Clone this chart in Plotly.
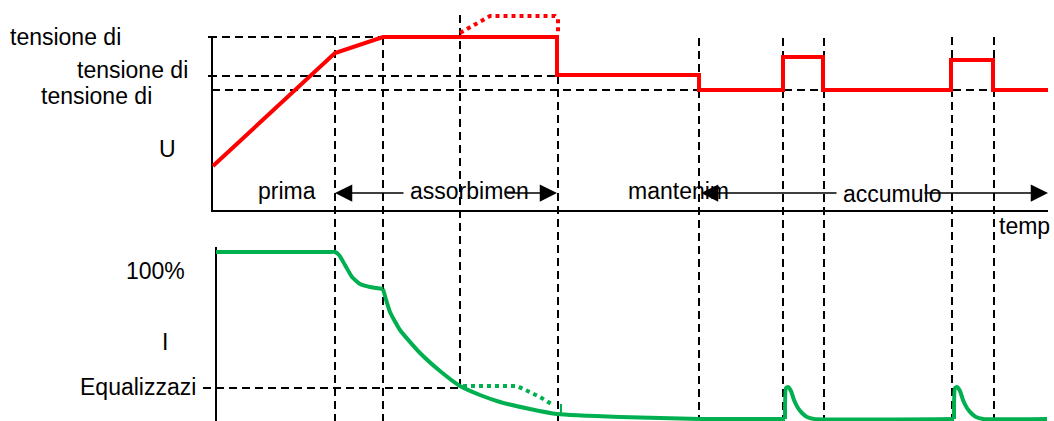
"""Charging profile sketch: voltage (U) and current (I) over time."""

import plotly.graph_objects as go

# voltage curve U(t)
u_t = [213, 335, 383, 557, 557, 699, 699, 783, 783, 823, 823, 951, 951, 993, 993, 1048]
u_v = [166, 53, 37, 37, 75, 75, 90, 90, 57, 57, 90, 90, 60, 60, 90, 90]
# equalization voltage (dotted)
u_eq_t = [460, 490, 555, 558, 558]
u_eq_v = [33, 16, 16, 19, 33]

# current curve I(t)
i_bulk_t = [216, 300, 328, 335, 339, 345, 352, 360, 370, 383]
i_bulk_v = [252, 252, 252, 252, 255, 265, 277, 284, 287, 289]
i_abs_t = [383, 390, 400, 420, 440, 460, 480, 500, 530, 557, 620, 700, 785]
i_abs_v = [289, 312, 330, 353, 371, 386, 395, 402, 409, 414, 417, 419, 419]
i_pulse1_t = [785, 786, 788, 791, 794, 798, 802, 807, 814, 954]
i_pulse1_v = [419, 388, 387, 391, 400, 408, 413, 417, 419, 419]
i_pulse2_t = [954, 955, 957, 960, 963, 967, 971, 976, 983, 1047]
i_pulse2_v = [419, 388, 387, 391, 400, 408, 413, 417, 419, 419]
# equalization current (dotted)
i_eq_t = [463, 517, 540, 553]
i_eq_v = [386, 386, 397, 405]
i_eq_tick_t = [561, 561]
i_eq_tick_v = [404, 414]

# phase boundaries (vertical dashed guides)
guide_t = [335, 383, 460, 558, 699, 783, 824, 952, 994]
guide_top = [37, 37, 15, 37, 38, 38, 38, 37, 37]
guide_bottom = [421, 421, 388, 421, 421, 421, 421, 421, 421]

# reference levels (horizontal dashed guides)
level_v = [37, 76, 90, 388]
level_t0 = [209, 209, 212, 203]
level_t1 = [557, 560, 1002, 460]

# labels
labels = ["tensione di", "tensione di", "tensione di", "U", "prima", "assorbimen",
          "mantenim", "accumulo", "temp", "100%", "I", "Equalizzazi"]
label_t = [8, 75, 39, 157, 256, 408, 626, 841, 997, 124, 160, 78]
label_v = [37, 70, 96, 149, 191, 191, 191, 194, 226, 271, 342, 387]

# phase arrows: (tip, tail) pairs on the arrow row
arrow_v = 193
arrow_tip = [335, 557, 701, 1048]
arrow_tail = [405, 505, 838, 923]

RED = "#ff0000"
GREEN = "#00b050"
FONT = "Liberation Sans, Arial, sans-serif"

fig = go.Figure()

# guides
for t, top, bottom in zip(guide_t, guide_top, guide_bottom):
    fig.add_trace(go.Scatter(x=[t, t], y=[top, bottom], mode="lines",
                             line=dict(color="black", width=2, dash="8px,5px")))
for v, t0, t1 in zip(level_v, level_t0, level_t1):
    fig.add_trace(go.Scatter(x=[t0, t1], y=[v, v], mode="lines",
                             line=dict(color="black", width=2, dash="8px,5px")))

# axes frames
fig.add_trace(go.Scatter(x=[212, 212, 1048], y=[37, 211, 211], mode="lines",
                         line=dict(color="black", width=2)))
for v in level_v[:2]:
    fig.add_trace(go.Scatter(x=[208, 212], y=[v, v], mode="lines",
                             line=dict(color="black", width=2)))
fig.add_trace(go.Scatter(x=[216, 216], y=[247, 421], mode="lines",
                         line=dict(color="black", width=2)))

# voltage
fig.add_trace(go.Scatter(x=u_eq_t, y=u_eq_v, mode="lines",
                         line=dict(color=RED, width=4, dash="4px,4px")))
fig.add_trace(go.Scatter(x=u_t, y=u_v, mode="lines",
                         line=dict(color=RED, width=4)))

# current
fig.add_trace(go.Scatter(x=i_eq_t, y=i_eq_v, mode="lines",
                         line=dict(color=GREEN, width=4, dash="4px,4px")))
fig.add_trace(go.Scatter(x=i_eq_tick_t, y=i_eq_tick_v, mode="lines",
                         line=dict(color=GREEN, width=2)))
for xs, ys in [(i_bulk_t, i_bulk_v), (i_abs_t, i_abs_v),
               (i_pulse1_t, i_pulse1_v), (i_pulse2_t, i_pulse2_v)]:
    fig.add_trace(go.Scatter(x=xs, y=ys, mode="lines",
                             line=dict(color=GREEN, width=4, shape="spline", smoothing=0.5)))

for text, t, v in zip(labels, label_t, label_v):
    fig.add_annotation(x=t, y=v, text=text, showarrow=False, xanchor="left",
                       yanchor="middle", font=dict(family=FONT, size=23, color="black"))

for tip, tail in zip(arrow_tip, arrow_tail):
    fig.add_annotation(x=tip, y=arrow_v, ax=tail, ay=arrow_v, axref="x", ayref="y",
                       text="", showarrow=True, arrowhead=2, arrowsize=2.3,
                       arrowwidth=1.5, arrowcolor="black", standoff=0)

fig.update_layout(
    width=1054,
    height=421,
    margin=dict(l=0, r=0, t=0, b=0),
    paper_bgcolor="white",
    plot_bgcolor="white",
    showlegend=False,
    xaxis=dict(range=[0, 1054], visible=False, fixedrange=True),
    yaxis=dict(range=[421, 0], visible=False, fixedrange=True),
    hovermode=False,
)

fig.write_html("out.html", config={"displayModeBar": False},
               post_script="document.body.style.margin='0';")
